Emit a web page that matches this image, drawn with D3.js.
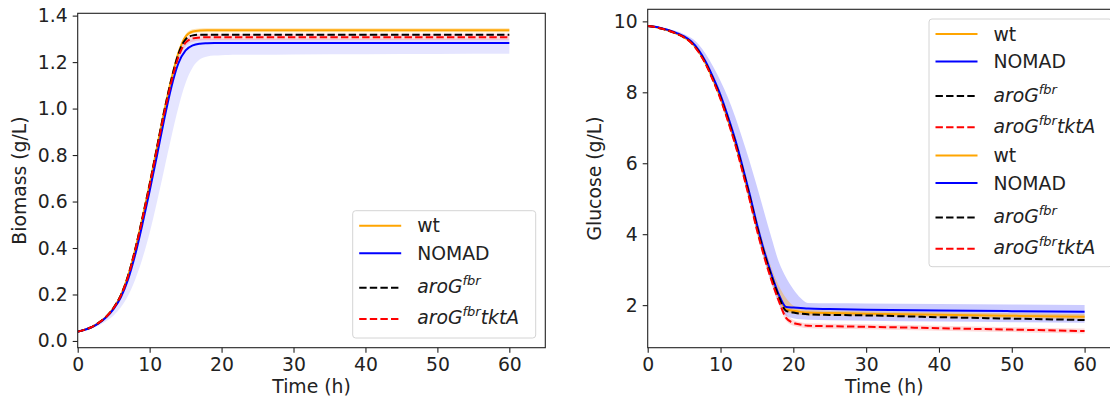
<!DOCTYPE html>
<html><head><meta charset="utf-8">
<script src="https://cdn.jsdelivr.net/npm/d3@7"></script>
<style>body{margin:0;background:#fff}svg{display:block;font-family:"DejaVu Sans",sans-serif}</style>
</head><body><svg id="c" width="1110" height="398"></svg>
<script>
// ---------- data ----------
const time = [0,1,2,3,4,5,6,7,8,9,10,11,12,13,14,15,16,17,18,19,20,21,22,25,30,40,50,60];
const xTicks = [0,10,20,30,40,50,60];
const biomassTicks = [0,0.2,0.4,0.6,0.8,1.0,1.2,1.4];
const glucoseTicks = [2,4,6,8,10];
const legendLabels = ["wt","NOMAD","aroG|fbr|","aroG|fbr|tktA"];

// Biomass (g/L)
const biomassWt    = [0.040,0.049,0.061,0.080,0.106,0.143,0.197,0.280,0.395,0.530,0.675,0.830,0.985,1.125,1.240,1.310,1.332,1.336,1.337,1.337,1.337,1.337,1.337,1.337,1.337,1.337,1.337,1.337];
const biomassNomad = [0.040,0.048,0.060,0.078,0.103,0.138,0.188,0.265,0.372,0.503,0.645,0.795,0.950,1.090,1.195,1.250,1.272,1.279,1.281,1.282,1.282,1.282,1.282,1.282,1.282,1.282,1.282,1.282];
const biomassAro   = [0.040,0.049,0.061,0.080,0.106,0.143,0.197,0.280,0.395,0.530,0.675,0.830,0.985,1.123,1.235,1.298,1.315,1.318,1.318,1.318,1.318,1.318,1.318,1.318,1.318,1.318,1.318,1.318];
const biomassTkt   = [0.040,0.049,0.061,0.080,0.105,0.142,0.195,0.277,0.391,0.525,0.669,0.823,0.976,1.113,1.222,1.284,1.302,1.306,1.307,1.307,1.307,1.307,1.307,1.307,1.307,1.307,1.307,1.307];
// Biomass bands
const biomassWtLo    = [0.038,0.047,0.059,0.077,0.102,0.138,0.190,0.271,0.385,0.520,0.665,0.820,0.975,1.115,1.230,1.300,1.323,1.327,1.328,1.328,1.328,1.328,1.328,1.328,1.328,1.328,1.328,1.328];
const biomassWtHi    = [0.042,0.051,0.063,0.083,0.110,0.148,0.204,0.289,0.405,0.540,0.685,0.840,0.995,1.135,1.250,1.320,1.341,1.345,1.346,1.346,1.346,1.346,1.346,1.346,1.346,1.346,1.346,1.346];
const biomassNomadLo = [0.039,0.046,0.055,0.068,0.086,0.110,0.145,0.195,0.265,0.355,0.465,0.595,0.735,0.875,1.005,1.110,1.178,1.212,1.224,1.228,1.230,1.231,1.232,1.232,1.233,1.234,1.235,1.236];
const biomassNomadHi = [0.041,0.050,0.062,0.082,0.108,0.146,0.201,0.285,0.401,0.537,0.682,0.837,0.991,1.129,1.240,1.290,1.298,1.300,1.300,1.300,1.300,1.300,1.300,1.300,1.300,1.300,1.300,1.300];
const biomassTktLo   = [0.039,0.048,0.059,0.078,0.102,0.138,0.190,0.270,0.383,0.515,0.658,0.811,0.963,1.099,1.207,1.268,1.288,1.293,1.294,1.294,1.294,1.294,1.294,1.294,1.294,1.294,1.294,1.294];
const biomassTktHi   = [0.041,0.050,0.063,0.082,0.108,0.146,0.200,0.284,0.399,0.535,0.680,0.835,0.989,1.127,1.237,1.300,1.318,1.321,1.322,1.322,1.322,1.322,1.322,1.322,1.322,1.322,1.322,1.322];

// Glucose (g/L)
const glucoseWt    = [9.87,9.84,9.79,9.73,9.65,9.55,9.40,9.15,8.80,8.35,7.85,7.25,6.60,5.85,5.05,4.20,3.45,2.80,2.25,1.88,1.84,1.81,1.79,1.775,1.76,1.73,1.70,1.67];
const glucoseNomad = [9.87,9.845,9.80,9.745,9.67,9.575,9.43,9.19,8.85,8.41,7.92,7.33,6.68,5.93,5.13,4.28,3.52,2.87,2.30,1.95,1.93,1.92,1.905,1.89,1.87,1.85,1.83,1.81];
const glucoseAro   = [9.87,9.84,9.79,9.73,9.65,9.55,9.40,9.15,8.80,8.35,7.85,7.25,6.60,5.85,5.05,4.20,3.45,2.80,2.24,1.84,1.79,1.76,1.74,1.725,1.71,1.66,1.62,1.58];
const glucoseTkt   = [9.87,9.84,9.79,9.73,9.65,9.55,9.39,9.13,8.78,8.32,7.81,7.20,6.54,5.78,4.97,4.12,3.36,2.70,2.12,1.64,1.50,1.45,1.42,1.405,1.39,1.35,1.31,1.27];
// Glucose bands
const glucoseNomadLo = [9.86,9.83,9.78,9.72,9.64,9.53,9.37,9.11,8.75,8.28,7.76,7.14,6.47,5.70,4.88,4.03,3.28,2.62,2.05,1.70,1.63,1.60,1.59,1.575,1.56,1.54,1.52,1.50];
const glucoseNomadHi = [9.89,9.87,9.83,9.78,9.72,9.64,9.53,9.35,9.07,8.72,8.32,7.86,7.32,6.70,6.05,5.35,4.62,3.90,3.22,2.78,2.45,2.20,2.06,2.05,2.045,2.035,2.02,2.005];
const glucoseWtLo    = [9.86,9.83,9.78,9.72,9.64,9.54,9.38,9.13,8.77,8.32,7.82,7.22,6.57,5.82,5.02,4.17,3.42,2.77,2.22,1.82,1.76,1.73,1.71,1.70,1.69,1.66,1.63,1.60];
const glucoseWtHi    = [9.88,9.85,9.80,9.75,9.67,9.58,9.44,9.20,8.86,8.42,7.93,7.35,6.72,6.00,5.22,4.40,3.68,3.05,2.55,2.20,1.98,1.90,1.86,1.845,1.83,1.80,1.77,1.74];
const glucoseTktLo   = [9.86,9.83,9.78,9.72,9.64,9.53,9.37,9.10,8.74,8.27,7.75,7.13,6.46,5.69,4.87,4.02,3.26,2.60,2.02,1.56,1.42,1.38,1.35,1.335,1.32,1.28,1.24,1.20];
const glucoseTktHi   = [9.88,9.85,9.80,9.74,9.66,9.57,9.41,9.16,8.82,8.37,7.87,7.27,6.62,5.87,5.07,4.22,3.46,2.80,2.22,1.76,1.58,1.52,1.49,1.475,1.46,1.42,1.38,1.34];

// ---------- drawing ----------
const svg = d3.select("#c");
const FS = 18.8;
const styles = [
  {color:"#ffa500", dash:null},
  {color:"#0000ff", dash:null},
  {color:"#000000", dash:"7.4,3.2"},
  {color:"#ff0000", dash:"7.4,3.2"}
];

function panel(cfg){
  const g = svg.append("g");
  const x = d3.scaleLinear().domain([0,65]).range([cfg.left, cfg.right]);
  const y = d3.scaleLinear().domain(cfg.ydom).range([cfg.bottom, cfg.top]);
  const cid = "clip" + cfg.id;
  svg.append("clipPath").attr("id", cid).append("rect")
    .attr("x", cfg.left).attr("y", cfg.top).attr("width", cfg.right-cfg.left).attr("height", cfg.bottom-cfg.top);
  const pg = g.append("g").attr("clip-path", `url(#${cid})`);
  const area = d3.area().x((d,i)=>x(time[i])).y0(d=>y(d[0])).y1(d=>y(d[1])).curve(d3.curveMonotoneX);
  cfg.bands.forEach(b=>{
    pg.append("path").datum(b.lo.map((v,i)=>[v,b.hi[i]]))
      .attr("d", area).attr("fill", b.color).attr("fill-opacity", b.alpha).attr("stroke","none");
  });
  const line = d3.line().x((d,i)=>x(time[i])).y(d=>y(d)).curve(d3.curveMonotoneX);
  cfg.series.forEach((s,k)=>{
    pg.append("path").datum(s).attr("d", line).attr("fill","none")
      .attr("stroke", styles[k].color).attr("stroke-width", 2)
      .attr("stroke-dasharray", styles[k].dash);
  });
  // axes
  const xa = g.append("g").attr("transform",`translate(0,${cfg.bottom})`)
    .call(d3.axisBottom(x).tickValues(xTicks).tickSize(5).tickPadding(5).tickSizeOuter(0));
  const ya = g.append("g").attr("transform",`translate(${cfg.left},0)`)
    .call(d3.axisLeft(y).tickValues(cfg.yticks).tickFormat(cfg.fmt).tickSize(5).tickPadding(5).tickSizeOuter(0));
  [xa,ya].forEach(a=>{
    a.selectAll("text").attr("font-size", FS).attr("fill","#222").attr("font-family","DejaVu Sans");
    a.selectAll("line").attr("stroke","#222").attr("stroke-width",1.1);
    a.select(".domain").remove();
  });
  // spines
  g.append("rect").attr("x",cfg.left).attr("y",cfg.top).attr("width",cfg.right-cfg.left).attr("height",cfg.bottom-cfg.top)
    .attr("fill","none").attr("stroke","#222").attr("stroke-width",1.1);
  // labels
  g.append("text").attr("x",(cfg.left+cfg.right)/2).attr("y",392.5).attr("text-anchor","middle")
    .attr("font-size",FS).attr("fill","#222").text("Time (h)");
  g.append("text").attr("transform",`translate(${cfg.ylabX},${(cfg.top+cfg.bottom)/2}) rotate(-90)`)
    .attr("text-anchor","middle").attr("font-size",FS).attr("fill","#222").text(cfg.ylabel);
  // legend
  const lg = svg.append("g").attr("transform",`translate(${cfg.legX},${cfg.legY})`);
  lg.append("rect").attr("x",0).attr("y",0).attr("width",183).attr("height",cfg.legH).attr("rx",3)
    .attr("fill","#fff").attr("fill-opacity",0.8).attr("stroke","#d4d4d4").attr("stroke-width",1);
  const rowOff = [15,42.5,77,108.2];
  for(let blk=0; blk<cfg.legBlocks; blk++){
    legendLabels.forEach((lab,k)=>{
      const yy = rowOff[k] + blk*121.5;
      lg.append("line").attr("x1",6.5).attr("x2",48.5).attr("y1",yy).attr("y2",yy)
        .attr("stroke",styles[k].color).attr("stroke-width",2).attr("stroke-dasharray",styles[k].dash);
      const parts = lab.split("|");
      const t = lg.append("text").attr("x",64.5).attr("y",yy + (parts.length>1?5.5:6.5))
        .attr("font-size",FS).attr("fill","#222");
      if(parts.length===1){ t.text(lab); }
      else {
        t.attr("font-style","italic");
        t.append("tspan").text(parts[0]);
        t.append("tspan").attr("font-size",13).attr("dy",-8).text(parts[1]);
        if(parts[2]) t.append("tspan").attr("dy",8).text(parts[2]);
      }
    });
  }
}

panel({id:1,left:77.7,right:545.3,top:13.3,bottom:347.7,ydom:[-0.029,1.41],yticks:biomassTicks,fmt:d3.format(".1f"),
  ylabel:"Biomass (g/L)", ylabX:26,
  series:[biomassWt,biomassNomad,biomassAro,biomassTkt],
  bands:[
    {lo:biomassNomadLo,hi:biomassNomadHi,color:"#0000ff",alpha:0.1},
    {lo:biomassWtLo,hi:biomassWtHi,color:"#ffa500",alpha:0.3},
    {lo:biomassTktLo,hi:biomassTktHi,color:"#ff0000",alpha:0.15}
  ],
  legX:352.7, legY:210.7, legH:127.3, legBlocks:1});

panel({id:2,left:647.7,right:1121,top:9.3,bottom:347.7,ydom:[0.80,10.34],yticks:glucoseTicks,fmt:d3.format("d"),
  ylabel:"Glucose (g/L)", ylabX:600.5,
  series:[glucoseWt,glucoseNomad,glucoseAro,glucoseTkt],
  bands:[
    {lo:glucoseNomadLo,hi:glucoseNomadHi,color:"#0000ff",alpha:0.2},
    {lo:glucoseWtLo,hi:glucoseWtHi,color:"#ffa500",alpha:0.35},
    {lo:glucoseTktLo,hi:glucoseTktHi,color:"#ff0000",alpha:0.15}
  ],
  legX:929, legY:19, legH:247.7, legBlocks:2});
</script></body></html>
